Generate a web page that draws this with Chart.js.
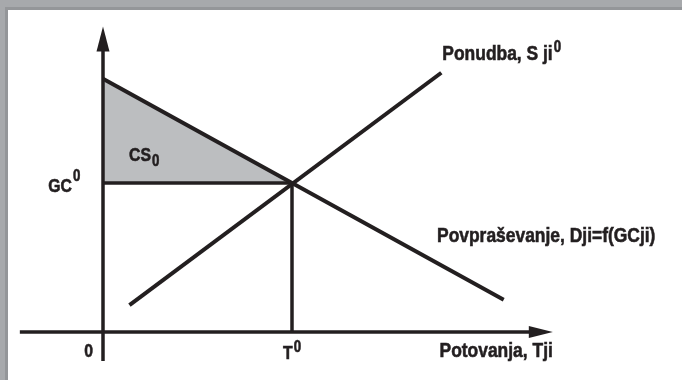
<!DOCTYPE html>
<html>
<head>
<meta charset="utf-8">
<script src="https://cdn.jsdelivr.net/npm/chart.js@4/dist/chart.umd.min.js"></script>
<style>
  html, body { margin: 0; padding: 0; background: #ffffff; }
  #wrap { position: relative; width: 682px; height: 380px; }
</style>
</head>
<body>
<div id="wrap"><canvas id="c"></canvas></div>
<script>
// Conceptual supply / demand diagram (arbitrary units)
const demandX = [0, 21.2];
const demandY = [17, 2.16];
const supplyX = [1.4, 17.9];
const supplyY = [1.8, 17.4];
const equilibriumT = 10;   // T0
const equilibriumGC = 10;  // GC0
const xAxisRange = [-4.4, 23.8];
const yAxisRange = [-1.95, 20.5];
const labelSupply = 'Ponudba, S ji';
const labelDemand = 'Povpraševanje, Dji=f(GCji)';
const labelXAxis = 'Potovanja, Tji';
const labelOrigin = '0';
const labelT = 'T';
const labelGC = 'GC';
const labelCS = 'CS';
const supIndex = '0';

const INK = '#231f20';
const SQUEEZE = 0.83;
const FAMILY = '"Liberation Sans", Arial, sans-serif';
const pts = (xs, ys) => xs.map((x, i) => ({ x: x, y: ys[i] }));

// condensed bold text helper: returns drawn width
function ctext(ctx, str, x, y, size, align) {
  ctx.font = 'bold ' + size + 'px ' + FAMILY;
  const w = ctx.measureText(str).width * SQUEEZE;
  let left = x;
  if (align === 'right') left = x - w;
  ctx.save();
  ctx.translate(left, y);
  ctx.scale(SQUEEZE, 1);
  ctx.textAlign = 'left';
  ctx.textBaseline = 'alphabetic';
  ctx.fillStyle = INK;
  ctx.strokeStyle = INK;
  ctx.lineWidth = 0.6;
  ctx.fillText(str, 0, 0);
  ctx.strokeText(str, 0, 0);
  ctx.restore();
  return w;
}

const framePlugin = {
  id: 'frame',
  beforeDraw(chart) {
    const ctx = chart.ctx;
    ctx.save();
    ctx.fillStyle = '#ffffff';
    ctx.fillRect(0, 0, chart.width, chart.height);
    ctx.fillStyle = '#a7a9ac';
    ctx.fillRect(0, 0, chart.width, 10);
    ctx.fillRect(0, 0, 8, chart.height);
    ctx.fillStyle = '#949699';
    ctx.fillRect(5, 7, chart.width - 5, 3);
    ctx.fillRect(5, 7, 3, chart.height - 7);
    ctx.restore();
  }
};

const annotPlugin = {
  id: 'annot',
  afterDatasetsDraw(chart) {
    const ctx = chart.ctx;
    const xs = chart.scales.x, ys = chart.scales.y;
    const ox = xs.getPixelForValue(0), oy = ys.getPixelForValue(0);
    ctx.save();
    ctx.fillStyle = INK;
    // y arrow head
    const yt = ys.getPixelForValue(yAxisRange[1]);
    ctx.beginPath();
    ctx.moveTo(ox, yt);
    ctx.lineTo(ox - 6.5, yt + 25);
    ctx.lineTo(ox + 6.5, yt + 25);
    ctx.closePath();
    ctx.fill();
    // x arrow head
    const xt = xs.getPixelForValue(xAxisRange[1]);
    ctx.beginPath();
    ctx.moveTo(xt, oy);
    ctx.lineTo(xt - 24, oy - 6);
    ctx.lineTo(xt - 24, oy + 6);
    ctx.closePath();
    ctx.fill();

    const tx = xs.getPixelForValue(equilibriumT), gy = ys.getPixelForValue(equilibriumGC);

    // supply label
    const sx = xs.getPixelForValue(supplyX[1]), sy = ys.getPixelForValue(supplyY[1]);
    let w = ctext(ctx, labelSupply, sx + 1, sy - 13, 21);
    ctext(ctx, supIndex, sx + 2 + w, sy - 21, 16);

    // demand label
    ctext(ctx, labelDemand, tx + 145, gy + 59, 21);

    // x axis label
    ctext(ctx, labelXAxis, xt, oy + 25, 21, 'right');

    // origin
    ctext(ctx, labelOrigin, ox - 10, oy + 25, 19, 'right');

    // T0
    w = ctext(ctx, labelT, tx - 9, oy + 27, 19);
    ctext(ctx, supIndex, tx - 9 + w + 1, oy + 20, 16);

    // GC0
    ctext(ctx, labelGC, ox - 31, gy + 9, 19, 'right');
    ctext(ctx, supIndex, ox - 30, gy - 2, 16);

    // CS0
    w = ctext(ctx, labelCS, ox + 26, gy - 22, 19);
    ctext(ctx, supIndex, ox + 27 + w, gy - 17, 16);
    ctx.restore();
  }
};

const lineDs = (data, width, order) => ({
  data: data,
  showLine: true,
  borderColor: INK,
  borderWidth: width,
  borderCapStyle: 'butt',
  pointRadius: 0,
  fill: false,
  order: order
});

new Chart(document.getElementById('c'), {
  type: 'scatter',
  data: {
    datasets: [
      {
        data: [{ x: 0, y: demandY[0] }, { x: equilibriumT, y: equilibriumGC }],
        showLine: true,
        borderWidth: 0,
        borderColor: 'rgba(0,0,0,0)',
        backgroundColor: '#bcbec0',
        pointRadius: 0,
        fill: { value: equilibriumGC },
        order: 10
      },
      lineDs(pts(demandX, demandY), 4, 1),
      lineDs(pts(supplyX, supplyY), 4, 1),
      lineDs([{ x: 0, y: equilibriumGC }, { x: equilibriumT, y: equilibriumGC }], 3.5, 1),
      lineDs([{ x: equilibriumT, y: 0 }, { x: equilibriumT, y: equilibriumGC }], 3.5, 1),
      lineDs([{ x: xAxisRange[0], y: 0 }, { x: xAxisRange[1] - 1, y: 0 }], 3.5, 1),
      lineDs([{ x: 0, y: yAxisRange[0] }, { x: 0, y: yAxisRange[1] - 1 }], 3.5, 1)
    ]
  },
  options: {
    responsive: true,
    maintainAspectRatio: false,
    animation: false,
    events: [],
    layout: { padding: { left: 8.5, right: 12, top: 4.2, bottom: 3.3 } },
    scales: {
      x: { type: 'linear', min: -5, max: 30, display: false },
      y: { type: 'linear', min: -3, max: 22, display: false }
    },
    plugins: { legend: { display: false }, tooltip: { enabled: false } }
  },
  plugins: [framePlugin, annotPlugin]
});
</script>
</body>
</html>
